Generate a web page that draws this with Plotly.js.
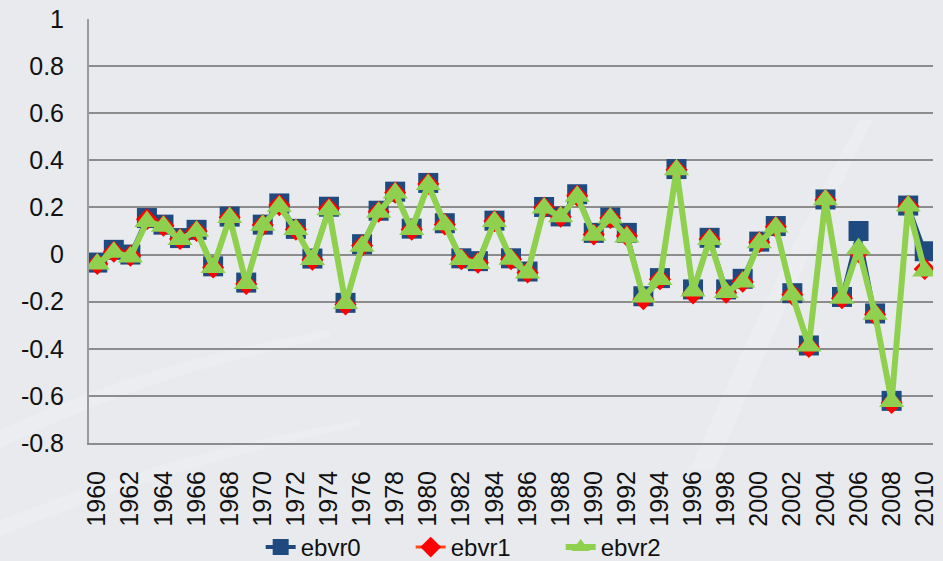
<!DOCTYPE html>
<html>
<head>
<meta charset="utf-8">
<script src="https://cdn.plot.ly/plotly-3.0.1.min.js"></script>
<style>
  html, body { margin: 0; padding: 0; background: #e8eaee; }
  #chart { width: 943px; height: 561px; }
</style>
</head>
<body>
<div id="chart"></div>
<script>
// Years on the category axis
const years = [];
for (let y = 1960; y <= 2010; y++) years.push(y);

// Series values, one per year
const ebvr0 = [-0.034, 0.020, 0.000, 0.155, 0.127, 0.070, 0.105, -0.050, 0.161, -0.119,
  0.127, 0.217, 0.109, -0.017, 0.203, -0.205, 0.044, 0.186, 0.267, 0.110,
  0.304, 0.133, -0.016, -0.028, 0.144, -0.016, -0.072, 0.202, 0.162, 0.256,
  0.092, 0.157, 0.092, -0.177, -0.100, 0.363, -0.148, 0.071, -0.148, -0.103,
  0.055, 0.121, -0.164, -0.386, 0.234, -0.180, 0.100, -0.250, -0.621, 0.208,
  0.014];
const ebvr1 = [-0.040, 0.012, -0.005, 0.150, 0.122, 0.066, 0.100, -0.055, 0.158, -0.125,
  0.125, 0.210, 0.106, -0.022, 0.195, -0.212, 0.038, 0.182, 0.263, 0.106,
  0.300, 0.128, -0.020, -0.035, 0.142, -0.020, -0.076, 0.200, 0.161, 0.250,
  0.085, 0.155, 0.080, -0.190, -0.105, 0.360, -0.165, 0.066, -0.162, -0.115,
  0.052, 0.118, -0.170, -0.392, 0.232, -0.185, 0.010, -0.255, -0.630, 0.206,
  -0.061];
const ebvr2 = [-0.040, 0.010, -0.010, 0.140, 0.120, 0.064, 0.099, -0.055, 0.157, -0.123,
  0.124, 0.205, 0.106, -0.021, 0.190, -0.208, 0.035, 0.180, 0.261, 0.106,
  0.297, 0.127, -0.021, -0.038, 0.140, -0.020, -0.078, 0.198, 0.161, 0.247,
  0.082, 0.155, 0.075, -0.180, -0.106, 0.360, -0.155, 0.064, -0.161, -0.117,
  0.050, 0.117, -0.172, -0.388, 0.233, -0.185, 0.025, -0.253, -0.624, 0.206,
  -0.070];

// Axis tick labels
const xTickYears = years.filter(y => y % 2 === 0);
const xTickText = xTickYears.map(String);
const yTickVals = [-0.8, -0.6, -0.4, -0.2, 0, 0.2, 0.4, 0.6, 0.8, 1];
const yTickText = ['-0.8', '-0.6', '-0.4', '-0.2', '0', '0.2', '0.4', '0.6', '0.8', '1'];

const seriesNames = ['ebvr0', 'ebvr1', 'ebvr2'];

const traces = [
  {
    x: years, y: ebvr0, name: seriesNames[0], type: 'scatter', mode: 'lines+markers',
    line: { color: '#1f4a80', width: 4 },
    marker: { symbol: 'square', size: 20, color: '#1f4a80' }
  },
  {
    x: years, y: ebvr1, name: seriesNames[1], type: 'scatter', mode: 'lines+markers',
    line: { color: '#ff4a17', width: 3 },
    marker: { symbol: 'diamond', size: 17, color: '#ff0000' }
  },
  {
    x: years, y: ebvr2, name: seriesNames[2], type: 'scatter', mode: 'lines+markers',
    line: { color: '#8fd14f', width: 6 },
    marker: { symbol: 'triangle-up', size: 22, color: '#8fd14f' }
  }
];

// Faint light streaks across the backdrop (pixel outlines, converted to paper fractions)
const L = 89, W = 943 - 89 - 10, T = 19, H = 424;
function toPaper(path) {
  return path.replace(/(-?\d+(?:\.\d+)?) (-?\d+(?:\.\d+)?)/g, (m, a, b) =>
    ((+a - L) / W).toFixed(4) + ' ' + (1 - (+b - T) / H).toFixed(4));
}
const streaks = [
  'M 860 120 Q 780 260 690 470 L 715 470 Q 800 270 872 120 Z',
  'M 0 430 Q 150 360 330 330 L 330 338 Q 160 370 0 448 Z',
  'M 0 520 Q 180 450 360 420 L 360 426 Q 190 460 0 536 Z'
].map(p => ({
  type: 'path', path: toPaper(p), xref: 'paper', yref: 'paper', layer: 'below',
  fillcolor: 'rgba(255,255,255,0.16)', line: { width: 0 }
}));

const layout = {
  width: 943, height: 561,
  margin: { l: 89, r: 10, t: 19, b: 118 },
  paper_bgcolor: '#e8eaee',
  plot_bgcolor: 'rgba(0,0,0,0)',
  font: { family: 'Liberation Sans, Arial, sans-serif', size: 25, color: '#111111' },
  showlegend: true,
  shapes: streaks,
  legend: {
    orientation: 'h', x: 0.47, xanchor: 'center',
    yref: 'container', y: 0, yanchor: 'bottom',
    entrywidth: 105, entrywidthmode: 'pixels',
    font: { size: 24, color: '#111111' }, bgcolor: 'rgba(0,0,0,0)',
    traceorder: 'normal'
  },
  xaxis: {
    range: [1959.5, 2010.5], automargin: false,
    tickmode: 'array', tickvals: xTickYears, ticktext: xTickText,
    tickangle: -90, ticks: '', showgrid: false, zeroline: false,
    showline: true, linecolor: '#8c8c8c', linewidth: 2,
    ticklabelstandoff: 16,
    tickfont: { size: 25, color: '#111111' }
  },
  yaxis: {
    range: [-0.8, 1], automargin: false,
    tickmode: 'array', tickvals: yTickVals, ticktext: yTickText,
    showgrid: true, gridcolor: '#8c8c8c', gridwidth: 2,
    zeroline: false, showline: true, linecolor: '#9a9a9a', linewidth: 2,
    ticks: '', ticklabelstandoff: 18,
    tickfont: { size: 25, color: '#111111' }
  }
};

Plotly.newPlot('chart', traces, layout, { displayModeBar: false, staticPlot: true })
  .then(gd => {
    // the legend's own padding sits it a little high; nudge it down to the page edge
    const lg = gd.querySelector('g.legend');
    if (!lg) return;
    const m = /translate\(\s*([-\d.]+)[ ,]+([-\d.]+)\s*\)/.exec(lg.getAttribute('transform') || '');
    if (m) lg.setAttribute('transform', 'translate(' + m[1] + ',' + (parseFloat(m[2]) + 9) + ')');
  });
</script>
</body>
</html>
